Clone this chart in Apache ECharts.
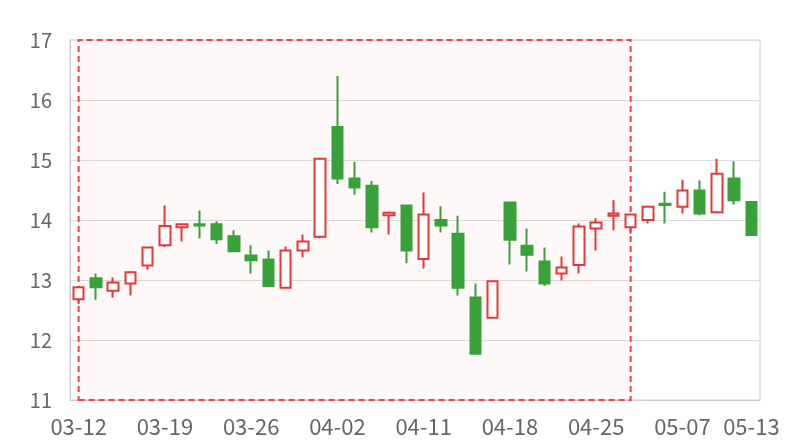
<!DOCTYPE html>
<html>
<head>
<meta charset="utf-8">
<script src="https://cdn.jsdelivr.net/npm/echarts@6/dist/echarts.min.js"></script>
<style>html,body{margin:0;padding:0;background:#fff}#c{width:800px;height:440px}</style>
</head>
<body>
<div id="c"></div>
<script>
var dates = ['03-12','03-13','03-14','03-15','03-18','03-19','03-20','03-21','03-22','03-25',
  '03-26','03-27','03-28','03-29','04-01','04-02','04-03','04-08','04-09','04-10',
  '04-11','04-12','04-15','04-16','04-17','04-18','04-19','04-22','04-23','04-24',
  '04-25','04-26','04-29','04-30','05-06','05-07','05-08','05-09','05-10','05-13'];
var opens  = [12.68,13.03,12.82,12.94,13.24,13.58,13.88,13.93,13.93,13.73,
  13.41,13.34,12.87,13.49,13.72,15.55,14.69,14.57,14.08,14.24,
  13.35,14.00,13.77,12.71,12.37,14.29,13.57,13.31,13.11,13.25,
  13.86,14.07,13.88,14.00,14.27,14.22,14.49,14.13,14.69,14.30];
var closes = [12.88,12.88,12.96,13.13,13.54,13.90,13.93,13.91,13.68,13.48,
  13.33,12.90,13.49,13.64,15.02,14.69,14.54,13.88,14.12,13.49,
  14.09,13.91,12.87,11.77,12.98,13.67,13.42,12.94,13.21,13.89,
  13.96,14.11,14.09,14.22,14.25,14.49,14.11,14.77,14.33,13.75];
var lows   = [12.60,12.67,12.71,12.74,13.17,13.55,13.64,13.69,13.60,13.47,
  13.11,12.90,12.87,13.38,13.69,14.60,14.42,13.79,13.76,13.28,
  13.19,13.79,12.74,11.77,12.37,13.26,13.14,12.90,12.99,13.11,
  13.49,13.83,13.77,13.94,13.94,14.11,14.08,14.13,14.26,13.75];
var highs  = [12.90,13.11,13.04,13.15,13.55,14.24,13.94,14.16,13.98,13.83,
  13.58,13.49,13.56,13.76,15.03,16.40,14.97,14.65,14.14,14.25,
  14.46,14.23,14.07,12.94,12.98,14.30,13.86,13.54,13.39,13.94,
  14.03,14.33,14.10,14.24,14.47,14.67,14.66,15.02,14.98,14.30];
var yTicks = {min: 11, max: 17, step: 1};
var areaRange = ['03-12', '04-29'];

var ohlc = dates.map(function (d, i) { return [opens[i], closes[i], lows[i], highs[i]]; });
var chart = echarts.init(document.getElementById('c'), null, {renderer: 'canvas'});
var FONT = '"Noto Sans CJK SC", "Noto Sans", sans-serif';
chart.setOption({
  animation: false,
  textStyle: {fontFamily: FONT},
  grid: {left: 70, right: 40, top: 40, bottom: 40, show: true, borderColor: '#ccc', borderWidth: 1, backgroundColor: 'transparent'},
  xAxis: {
    type: 'category',
    data: dates,
    boundaryGap: true,
    axisLine: {show: true, lineStyle: {color: '#ccc'}},
    axisTick: {show: false},
    splitLine: {show: false},
    axisLabel: {
      color: '#666', fontSize: 22, margin: 16, fontFamily: FONT,
      interval: function (i) { return i % 5 === 0 || i === dates.length - 1; }
    }
  },
  yAxis: {
    type: 'value',
    min: yTicks.min, max: yTicks.max, interval: yTicks.step,
    axisLine: {show: true, lineStyle: {color: '#ccc'}},
    axisTick: {show: false},
    splitLine: {lineStyle: {color: '#ddd'}},
    axisLabel: {color: '#666', fontSize: 20, margin: 18, fontFamily: FONT}
  },
  series: [{
    type: 'candlestick',
    data: ohlc,
    barWidth: 11,
    itemStyle: {
      color: '#ffffff',
      borderColor: '#e5383b',
      color0: '#38a13a',
      borderColor0: '#38a13a',
      borderWidth: 2
    },
    markArea: {
      silent: true,
      itemStyle: {
        color: 'rgba(240,60,60,0.035)',
        borderColor: '#ee4444',
        borderWidth: 2,
        borderType: [6, 4],
        opacity: 1
      },
      data: [[{xAxis: areaRange[0]}, {xAxis: areaRange[1]}]]
    }
  }]
});
</script>
</body>
</html>
